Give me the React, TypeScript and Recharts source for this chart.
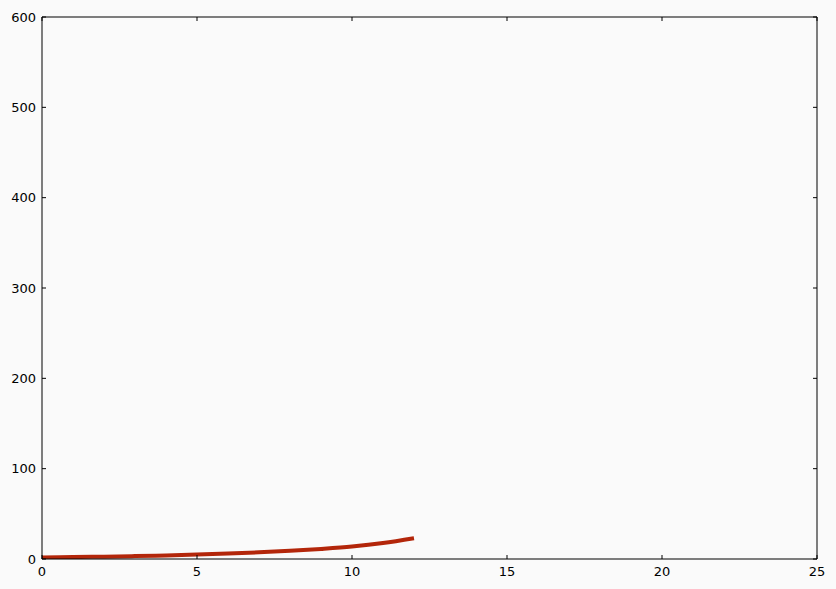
import React from "react";
import { LineChart, Line, XAxis, YAxis } from "recharts";

const xValues = [0, 1, 2, 3, 4, 5, 6, 7, 8, 9, 10, 11, 12];
const yValues = [1.7, 2.1, 2.6, 3.2, 4.0, 4.9, 6.0, 7.4, 9.1, 11.2, 13.8, 17.6, 22.9];
const xTicks = [0, 5, 10, 15, 20, 25];
const yTicks = [0, 100, 200, 300, 400, 500, 600];

const data = xValues.map((x, i) => ({ x, y: yValues[i] }));

const FONT = "'DejaVu Sans', sans-serif";
const TL = 4;

const BottomTick = (props: any) => {
  const { x, y, payload } = props;
  return (
    <g>
      <line x1={x} y1={y} x2={x} y2={y - TL} stroke="#000" strokeWidth={1} />
      <text x={x} y={y + 17} textAnchor="middle" fontFamily={FONT} fontSize={13} fill="#000">
        {payload.value}
      </text>
    </g>
  );
};

const TopTick = (props: any) => {
  const { x, y } = props;
  return <line x1={x} y1={y} x2={x} y2={y + TL} stroke="#000" strokeWidth={1} />;
};

const LeftTick = (props: any) => {
  const { x, y, payload } = props;
  return (
    <g>
      <line x1={x} y1={y} x2={x + TL} y2={y} stroke="#000" strokeWidth={1} />
      <text x={x - 6} y={y} dy="0.36em" textAnchor="end" fontFamily={FONT} fontSize={13} fill="#000">
        {payload.value}
      </text>
    </g>
  );
};

const RightTick = (props: any) => {
  const { x, y } = props;
  return <line x1={x} y1={y} x2={x - TL} y2={y} stroke="#000" strokeWidth={1} />;
};

export default function App() {
  return (
    <div style={{ position: "absolute", left: 0, top: 0, width: 836, height: 589, background: "#fafafa" }}>
      <LineChart width={836} height={589} data={data} margin={{ top: 16, right: 18, left: 0, bottom: 0 }}>
        <XAxis
          dataKey="x"
          type="number"
          domain={[0, 25]}
          ticks={xTicks}
          allowDataOverflow
          height={30}
          tickSize={0}
          tickMargin={0}
          tickLine={false}
          axisLine={{ stroke: "#000", strokeWidth: 1 }}
          tick={<BottomTick />}
          interval={0}
        />
        <XAxis
          xAxisId="top"
          orientation="top"
          dataKey="x"
          type="number"
          domain={[0, 25]}
          ticks={xTicks}
          allowDataOverflow
          height={1}
          tickSize={0}
          tickMargin={0}
          tickLine={false}
          axisLine={{ stroke: "#000", strokeWidth: 1 }}
          tick={<TopTick />}
          interval={0}
        />
        <YAxis
          type="number"
          domain={[0, 600]}
          ticks={yTicks}
          allowDataOverflow
          width={42}
          tickSize={0}
          tickMargin={0}
          tickLine={false}
          axisLine={{ stroke: "#000", strokeWidth: 1 }}
          tick={<LeftTick />}
          interval={0}
        />
        <YAxis
          yAxisId="right"
          orientation="right"
          type="number"
          domain={[0, 600]}
          ticks={yTicks}
          allowDataOverflow
          width={1}
          tickSize={0}
          tickMargin={0}
          tickLine={false}
          axisLine={{ stroke: "#000", strokeWidth: 1 }}
          tick={<RightTick />}
          interval={0}
        />
        <Line
          type="monotone"
          dataKey="y"
          stroke="#b3260a"
          strokeWidth={4}
          dot={false}
          isAnimationActive={false}
        />
      </LineChart>
    </div>
  );
}
